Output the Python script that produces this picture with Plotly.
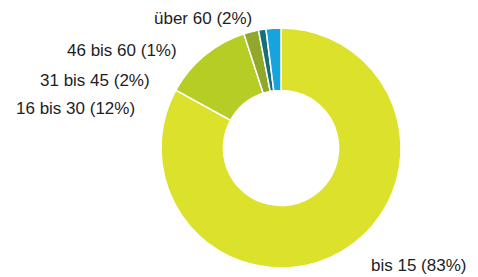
import plotly.graph_objects as go

labels = ["bis 15", "16 bis 30", "31 bis 45", "46 bis 60", "über 60"]
values = [83, 12, 2, 1, 2]
colors = ["#dce12b", "#b6cd26", "#90a92a", "#156f76", "#17a3dc"]

# label positions (paper coords)
label_x = [0.773, 0.029, 0.079, 0.136, 0.318]
label_y = [0.043, 0.610, 0.711, 0.819, 0.935]

fig = go.Figure(go.Pie(
    labels=labels,
    values=values,
    hole=0.48,
    sort=False,
    direction="clockwise",
    rotation=0,
    marker=dict(colors=colors, line=dict(color="white", width=1.5)),
    textinfo="none",
    hoverinfo="label+percent",
    domain=dict(x=[(281 - 120) / 478, (281 + 120) / 478],
                y=[9 / 277, 249 / 277]),
))

annotations = []
for lab, v, x, y in zip(labels, values, label_x, label_y):
    annotations.append(dict(
        text=f"{lab} ({v}%)", x=x, y=y, xref="paper", yref="paper",
        xanchor="left", yanchor="middle", showarrow=False,
        font=dict(family="Liberation Sans, Arial, sans-serif", size=17, color="#1e1e1e"),
    ))

fig.update_layout(
    width=478, height=277,
    margin=dict(l=0, r=0, t=0, b=0),
    paper_bgcolor="white", plot_bgcolor="white",
    showlegend=False,
    annotations=annotations,
)

fig.write_html("out.html", config={"displayModeBar": False},
               post_script="document.body.style.margin='0';")
